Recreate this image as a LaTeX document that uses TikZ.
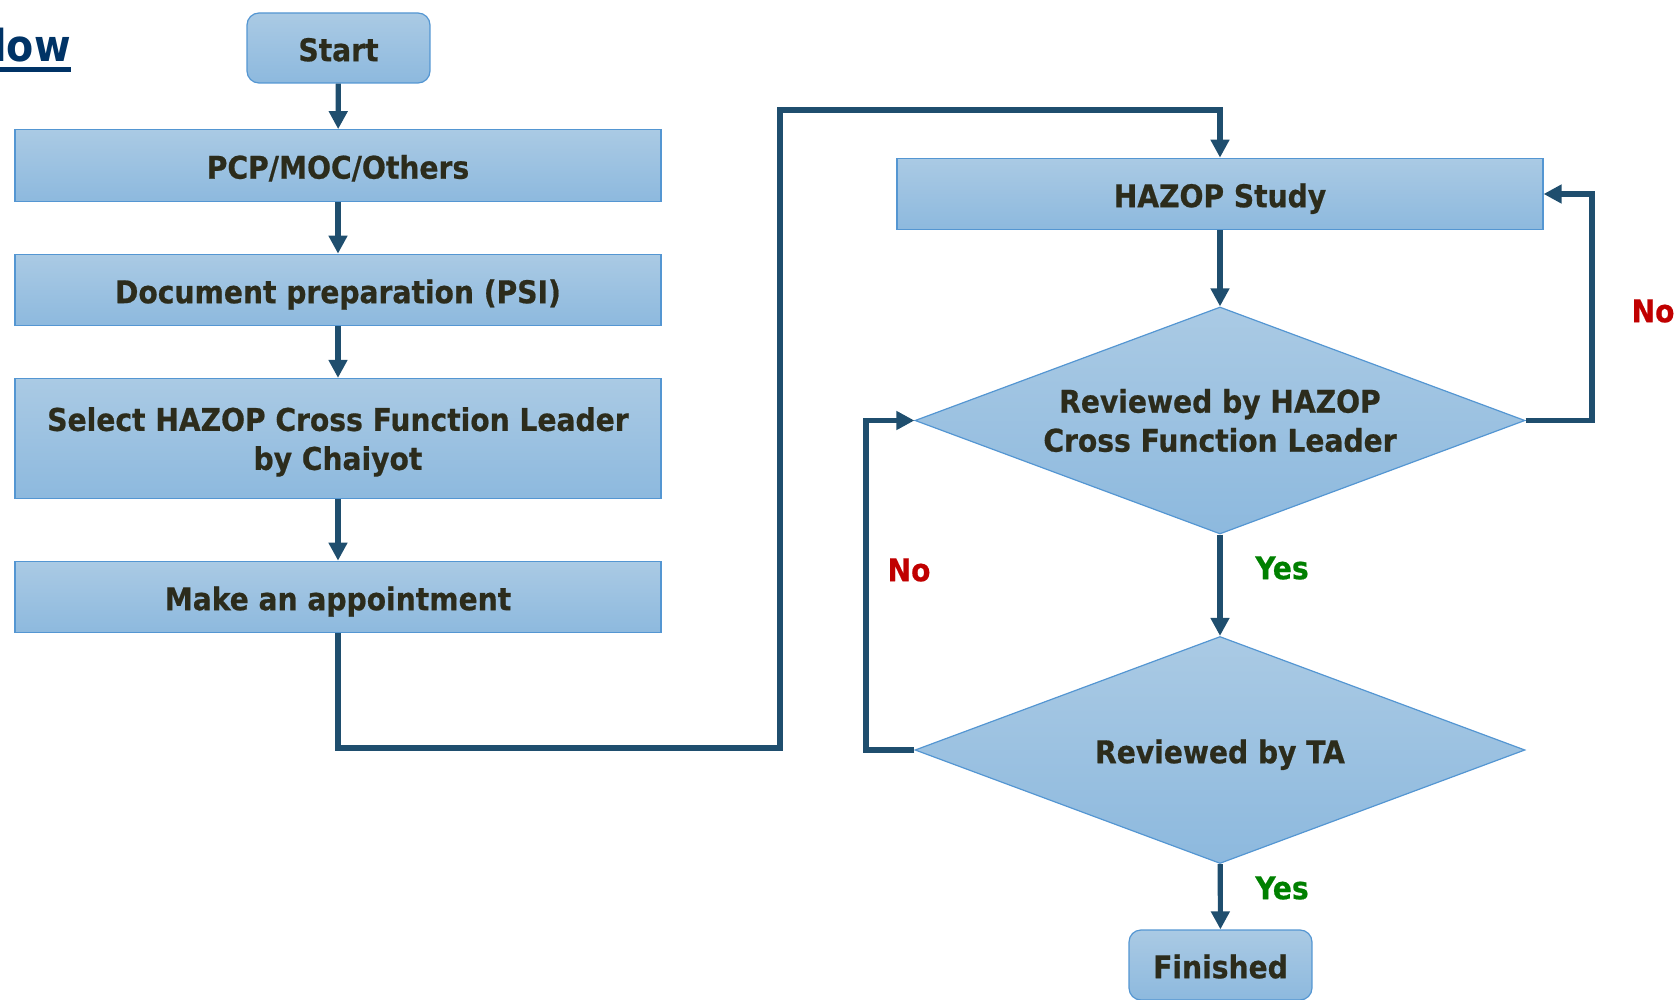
\documentclass[tikz,border=0pt]{standalone}
\usepackage{fontspec}
\newfontfamily\lblfont{DejaVu Sans Condensed Bold}[FakeBold=0.6]
\newfontfamily\ttlfont{DejaVu Sans Condensed Bold}
\usetikzlibrary{shapes.geometric,arrows.meta}

\definecolor{boxtop}{RGB}{170,202,228}
\definecolor{boxbot}{RGB}{141,185,222}
\definecolor{boxline}{RGB}{84,150,210}
\definecolor{arrowc}{RGB}{31,78,110}
\definecolor{txt}{RGB}{44,44,28}
\definecolor{nored}{RGB}{192,0,0}
\definecolor{yesgreen}{RGB}{0,128,0}
\definecolor{titlec}{RGB}{0,51,102}

\tikzset{
  proc/.style={draw=boxline, line width=0.6pt, top color=boxtop, bottom color=boxbot,
    minimum width=323pt, minimum height=35.75pt, inner sep=0pt,
    font=\lblfont\fontsize{15.65}{19.5}\selectfont, text=txt, align=center,
    text height=13.2pt, text depth=0pt},
  multiline/.style={text height={}, text depth=0pt},
  term/.style={proc, rounded corners=6pt, minimum width=91.5pt, minimum height=35pt},
  decision/.style={proc, shape=diamond, aspect=2.69, minimum width=305pt, minimum height=113.5pt},
  flow/.style={draw=arrowc, line width=2.6pt, -{Triangle[length=9pt,width=9pt]}},
  answer/.style={font=\lblfont\fontsize{15.65}{19.5}\selectfont, inner sep=0pt},
}

\begin{document}
\begin{tikzpicture}[x=0.5pt, y=-0.5pt]
\useasboundingbox (0,0) rectangle (1677,1000);

% title fragment
\node[anchor=base east, inner sep=0pt, text=titlec,
      font=\ttlfont\fontsize{22}{26}\selectfont] (title) at (71,62) {low};
\fill[titlec] (0,67) rectangle (71,72);

% left column
\node[term] (start) at (338.5,48) {Start};
\node[proc] (pcp) at (338,165.5) {PCP/MOC/Others};
\node[proc] (doc) at (338,290) {Document preparation (PSI)};
\node[proc, multiline, minimum height=60pt] (sel) at (338,438.5) {Select HAZOP Cross Function Leader\\by Chaiyot};
\node[proc] (make) at (338,597) {Make an appointment};

% right column
\node[proc] (hazop) at (1220,194) {HAZOP Study};
\node[decision, text height={}, text depth={}] (d1) at (1220,420.5) {Reviewed by HAZOP\\Cross Function Leader};
\node[decision] (d2) at (1220,750) {Reviewed by TA};
\node[term] (fin) at (1220.5,965) {Finished};

% bend points of the routed connectors
\coordinate (c1) at (780,748);
\coordinate (c2) at (780,110);
\coordinate (r1) at (1592,420.5);
\coordinate (l1) at (866,750);

\draw[flow] (start) -- (pcp);
\draw[flow] (pcp) -- (doc);
\draw[flow] (doc) -- (sel);
\draw[flow] (sel) -- (make);
\draw[flow] (make.south) |- (c1) -- (c2) -| (hazop.north);
\draw[flow] (hazop) -- (d1);
\draw[flow] (d1) -- (d2);
\draw[flow] (d2) -- (fin);
\draw[flow] (d1.east) -- (r1) |- (hazop.east);
\draw[flow] (d2.west) -- (l1) |- (d1.west);

% branch labels
\node[answer, text=nored] (noR) at (1653,311) {No};
\node[answer, text=yesgreen] (yes1) at (1282,568) {Yes};
\node[answer, text=nored] (noL) at (909,570) {No};
\node[answer, text=yesgreen] (yes2) at (1282,888) {Yes};
\end{tikzpicture}
\end{document}
